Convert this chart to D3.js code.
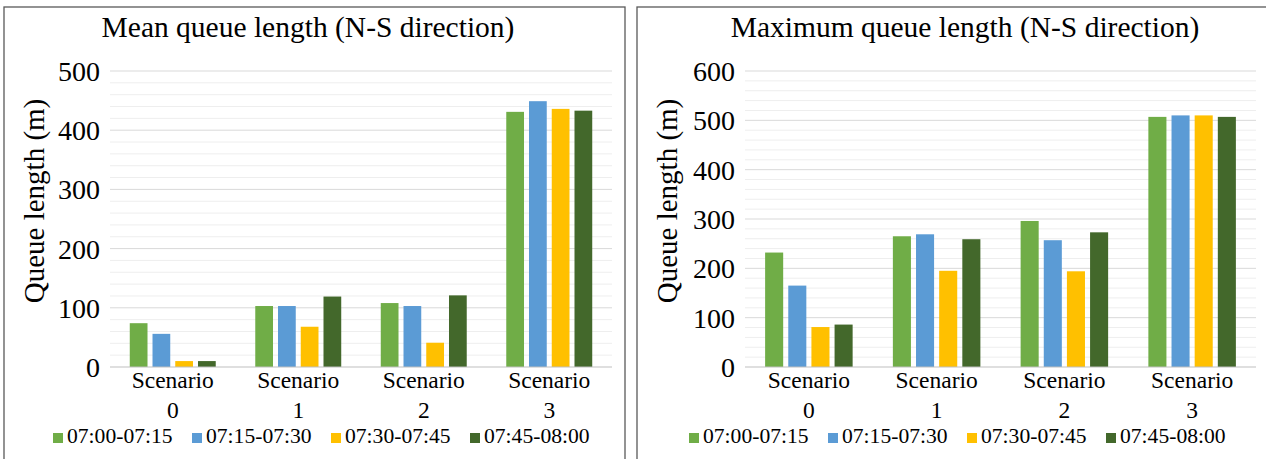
<!DOCTYPE html>
<html>
<head>
<meta charset="utf-8">
<script src="https://cdn.jsdelivr.net/npm/d3@7"></script>
<style>
  html, body { margin: 0; padding: 0; background: #fff; }
  svg { display: block; }
  svg text, svg tspan { font-family: "Liberation Serif", "Times New Roman", "DejaVu Serif", serif !important; fill: #000; }
</style>
</head>
<body>
<svg id="chart" width="1266" height="459" font-family="Liberation Serif, serif"></svg>
<script>
// ---- data ----
const categories = ["Scenario 0", "Scenario 1", "Scenario 2", "Scenario 3"];
const seriesNames = ["07:00-07:15", "07:15-07:30", "07:30-07:45", "07:45-08:00"];
const seriesColors = ["#70AD47", "#5B9BD5", "#FFC000", "#43682B"];
// values per series (one entry per scenario)
const meanQueue = [
  [74, 103, 108, 431],
  [56, 103, 103, 449],
  [10, 68, 41, 436],
  [10, 119, 121, 433]
];
const maxQueue = [
  [232, 265, 296, 507],
  [165, 269, 257, 510],
  [81, 195, 194, 510],
  [86, 259, 273, 507]
];
const meanTicks = [0, 100, 200, 300, 400, 500];
const maxTicks = [0, 100, 200, 300, 400, 500, 600];

const FONT = '"Liberation Serif", "Times New Roman", serif';
const svg = d3.select("#chart");

function drawPanel(cfg) {
  const g = svg.append("g").attr("font-family", FONT);
  // panel border
  g.append("rect")
    .attr("x", cfg.box[0]).attr("y", cfg.box[1])
    .attr("width", cfg.box[2]).attr("height", cfg.box[3])
    .attr("fill", "none").attr("stroke", "#595959").attr("stroke-width", 1.3);

  const x0 = d3.scaleBand().domain(categories).range([cfg.left, cfg.right])
    .paddingInner(0.315).paddingOuter(0.1575);
  const x1 = d3.scaleBand().domain(d3.range(seriesNames.length))
    .range([0, x0.bandwidth()]).paddingInner(0.22).paddingOuter(0);
  const yMax = cfg.ticks[cfg.ticks.length - 1];
  const y = d3.scaleLinear().domain([0, yMax]).range([cfg.bottom, cfg.top]);

  // minor gridlines
  const minor = d3.range(0, yMax + 1, 20).filter(v => v % 100 !== 0);
  g.append("g").selectAll("line").data(minor).join("line")
    .attr("x1", cfg.left).attr("x2", cfg.right)
    .attr("y1", d => y(d)).attr("y2", d => y(d))
    .attr("stroke", "#eeeeee").attr("stroke-width", 1);
  // major gridlines
  g.append("g").selectAll("line").data(cfg.ticks.filter(v => v > 0)).join("line")
    .attr("x1", cfg.left).attr("x2", cfg.right)
    .attr("y1", d => y(d)).attr("y2", d => y(d))
    .attr("stroke", "#d9d9d9").attr("stroke-width", 1);

  // y axis labels
  const yAxis = d3.axisLeft(y).tickValues(cfg.ticks).tickSize(0).tickPadding(0);
  const ya = g.append("g").attr("transform", `translate(${cfg.labelRight},0)`).call(yAxis);
  ya.attr("font-family", FONT).attr("font-size", 28);
  ya.select(".domain").remove();
  ya.selectAll("text")
    .attr("font-family", FONT)
    .attr("font-size", 28).attr("fill", "#000").attr("dy", "0.34em");

  // bars
  const sg = g.append("g").selectAll("g").data(cfg.values).join("g")
    .attr("fill", (d, i) => seriesColors[i]);
  sg.each(function (vals, si) {
    d3.select(this).selectAll("rect").data(vals).join("rect")
      .attr("x", (v, ci) => x0(categories[ci]) + x1(si))
      .attr("width", x1.bandwidth())
      .attr("y", v => y(v))
      .attr("height", v => y(0) - y(v));
  });

  // baseline
  g.append("line").attr("x1", cfg.left).attr("x2", cfg.right)
    .attr("y1", y(0)).attr("y2", y(0)).attr("stroke", "#bfbfbf").attr("stroke-width", 1);

  // category labels (two lines)
  const cat = g.append("g").selectAll("text").data(categories).join("text")
    .attr("text-anchor", "middle").attr("font-size", 23.5).attr("font-family", FONT)
    .attr("transform", d => `translate(${x0(d) + x0.bandwidth() / 2},388)`);
  cat.append("tspan").attr("x", 0).attr("y", 0).text(d => d.split(" ")[0]);
  cat.append("tspan").attr("x", 0).attr("y", 30).text(d => d.split(" ")[1]);

  // title
  g.append("text").attr("x", cfg.titleX).attr("y", 37).attr("text-anchor", "middle")
    .attr("font-size", 29.5).attr("font-family", FONT).text(cfg.title);

  // y axis title
  g.append("text")
    .attr("transform", `translate(${cfg.yTitleX},201) rotate(-90)`)
    .attr("text-anchor", "middle").attr("font-size", 29).attr("font-family", FONT)
    .text("Queue length (m)");

  // legend
  const step = 139;
  const lg = g.append("g").attr("transform", `translate(${cfg.legendX},443)`);
  const items = lg.selectAll("g").data(seriesNames).join("g")
    .attr("transform", (d, i) => `translate(${i * step},0)`);
  items.append("rect").attr("x", 0).attr("y", -10).attr("width", 10).attr("height", 10)
    .attr("fill", (d, i) => seriesColors[i]);
  items.append("text").attr("x", 14).attr("y", 0).attr("font-size", 21.6)
    .attr("font-family", FONT).text(d => d);
}

drawPanel({
  box: [4, 7, 621, 470],
  left: 110, right: 612, top: 71, bottom: 367,
  labelRight: 100,
  ticks: meanTicks, values: meanQueue,
  title: "Mean queue length (N-S direction)", titleX: 308,
  yTitleX: 44, legendX: 53
});
drawPanel({
  box: [637, 7, 640, 470],
  left: 745, right: 1256, top: 71, bottom: 367,
  labelRight: 735,
  ticks: maxTicks, values: maxQueue,
  title: "Maximum queue length (N-S direction)", titleX: 965,
  yTitleX: 677, legendX: 689
});
</script>
</body>
</html>
